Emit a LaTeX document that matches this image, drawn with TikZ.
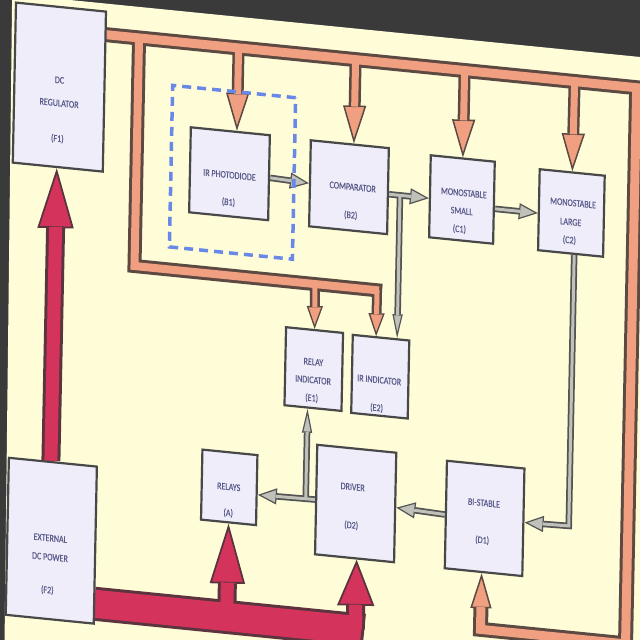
\documentclass[tikz,border=0pt]{standalone}
\usepackage{fontspec}
\setmainfont{Carlito}
\newfontfamily\lblfont{Carlito}[FakeStretch=0.8,FakeBold=0.5]
\usetikzlibrary{arrows.meta,calc}
\definecolor{paper}{RGB}{254,253,216}
\definecolor{bgdark}{RGB}{58,58,58}
\definecolor{boxfill}{RGB}{238,237,249}
\definecolor{boxline}{RGB}{72,72,72}
\definecolor{txt}{RGB}{92,92,140}
\definecolor{orng}{RGB}{240,160,128}
\definecolor{orngdk}{RGB}{92,74,66}
\definecolor{redp}{RGB}{212,52,92}
\definecolor{reddk}{RGB}{92,52,62}
\definecolor{sig}{RGB}{192,194,186}
\definecolor{sigdk}{RGB}{84,84,84}
\definecolor{dashblue}{RGB}{105,135,230}
\pgfdeclarelayer{back}
\pgfdeclarelayer{wires}
\pgfsetlayers{back,wires,main}
\begin{document}
\begin{tikzpicture}[x=1pt,y=-1pt,
  box/.style={draw=boxline, fill=boxfill, line width=2.2pt, inner sep=0pt, transform shape},
  lbl/.style={font=\lblfont\fontsize{10}{11}\selectfont, text=txt, inner sep=0pt, text height=6.4pt, text depth=0pt, transform shape},
  odk/.style={draw=orngdk, line join=miter},
  ofl/.style={draw=orng, line join=miter},
  otipL/.style={-{Triangle[width=23pt,length=38pt,fill=orng,line width=1.5pt]}},
  otipS/.style={-{Triangle[width=21pt,length=35pt,fill=orng,line width=1.5pt]}},
  otipM/.style={-{Triangle[width=16pt,length=23pt,fill=orng,line width=1.3pt]}},
  rdk/.style={draw=reddk, line join=miter},
  rfl/.style={draw=redp, line join=miter},
  rtipA/.style={-{Triangle[width=35pt,length=60pt,fill=redp,line width=1.8pt]}},
  rtipD/.style={-{Triangle[width=37pt,length=46pt,fill=redp,line width=1.8pt]}},
  rtipF/.style={-{Triangle[width=36pt,length=60pt,fill=redp,line width=1.8pt]}},
  sdk/.style={draw=sigdk, line width=6.5pt, line join=miter},
  sfl/.style={draw=sig, line width=3pt, line join=miter},
  stip/.style={-{Triangle[width=16pt,length=19pt,fill=sig,line width=1.2pt]}},
  stipV/.style={-{Triangle[width=10pt,length=24pt,fill=sig,line width=1.2pt]}}
]
\begin{pgfonlayer}{back}
\fill[bgdark] (0,0) rectangle (640,640);
\end{pgfonlayer}
\useasboundingbox (0,0) rectangle (640,640);
\begin{scope}[cm={1,-0.1,0.02,1,(0,0)}]
\begin{pgfonlayer}{back}
\fill[paper] (12,-7) -- (720,-7) -- (720,720) -- (18,720) -- cycle;
\end{pgfonlayer}

% boxes
\node[box, minimum width=90pt, minimum height=160pt] (f1) at (61,81) {};
\node[box, minimum width=88pt, minimum height=157pt] (f2) at (62,534.5) {};
\node[box, minimum width=79pt, minimum height=85pt] (b1) at (232.5,150.5) {};
\node[box, minimum width=78pt, minimum height=86pt] (b2) at (352,152) {};
\node[box, minimum width=64pt, minimum height=82pt] (c1) at (465,153) {};
\node[box, minimum width=65pt, minimum height=81pt] (c2) at (574.5,155.5) {};
\node[box, minimum width=57pt, minimum height=78pt] (e1) at (320.5,337) {};
\node[box, minimum width=56.5pt, minimum height=78pt] (e2) at (387,338) {};
\node[box, minimum width=55pt, minimum height=70pt] (a) at (238.5,463.5) {};
\node[box, minimum width=79pt, minimum height=109.5pt] (d2) at (365,467) {};
\node[box, minimum width=77.5pt, minimum height=107.5pt] (d1) at (494,469) {};

% labels
\node[lbl] (f1t1) at (61,74) {DC};
\node[lbl] (f1t2) at (61,97) {REGULATOR};
\node[lbl] (f1t3) at (60,132.5) {(F1)};
\node[lbl] (f2t1) at (61,532) {EXTERNAL};
\node[lbl] (f2t2) at (61,551) {DC POWER};
\node[lbl] (f2t3) at (59,584) {(F2)};
\node[lbl] (b1t1) at (232.5,151.7) {IR PHOTODIODE};
\node[lbl] (b1t2) at (232,178.8) {(B1)};
\node[lbl] (b2t1) at (355.7,151.4) {COMPARATOR};
\node[lbl] (b2t2) at (354.3,179.6) {(B2)};
\node[lbl] (c1t1) at (466.8,146.3) {MONOSTABLE};
\node[lbl] (c1t2) at (465,164.5) {SMALL};
\node[lbl] (c1t3) at (463,182.7) {(C1)};
\node[lbl] (c2t1) at (576,145.4) {MONOSTABLE};
\node[lbl] (c2t2) at (574,164.6) {LARGE};
\node[lbl] (c2t3) at (573,182.7) {(C2)};
\node[lbl] (e1t1) at (320,330) {RELAY};
\node[lbl] (e1t2) at (320,348) {INDICATOR};
\node[lbl] (e1t3) at (319,366) {(E1)};
\node[lbl] (e2t1) at (386,341.4) {IR INDICATOR};
\node[lbl] (e2t2) at (384,369.4) {(E2)};
\node[lbl] (at1) at (238,463) {RELAYS};
\node[lbl] (at2) at (238,489) {(A)};
\node[lbl] (d2t1) at (361.7,450.8) {DRIVER};
\node[lbl] (d2t2) at (361,489) {(D2)};
\node[lbl] (d1t1) at (493,453.7) {BI-STABLE};
\node[lbl] (d1t2) at (492,490.8) {(D1)};

% group frame
\node[draw=dashblue, line width=3.5pt, dash pattern=on 9pt off 6pt, minimum width=123pt, minimum height=161.5pt, inner sep=0pt, transform shape] (grp) at (235.5,148.75) {};

% junction coordinates
\coordinate (o0) at (106,24);
\coordinate (o1) at (139.5,24);
\coordinate (oR) at (637,24);
\coordinate (oRB) at (637,580);
\coordinate (oB) at (492,580);
\coordinate (oL1) at (139.5,252);
\coordinate (oL2) at (387,252);
\coordinate (oE2) at (382,252);
\coordinate (oE1) at (320,252);
\coordinate (ob1) at (239,24);
\coordinate (ob2) at (356,24);
\coordinate (oc1) at (465,24);
\coordinate (oc2) at (575,24);
\coordinate (r0) at (106,593);
\coordinate (r1) at (376,593);
\coordinate (ra) at (238.5,593);
\coordinate (rd) at (367,593);
\coordinate (j1) at (403,155);
\coordinate (j2) at (315,467.5);
\coordinate (k1) at (578,468);

\begin{pgfonlayer}{wires}
% ---- orange supply bus: outlines
\draw[odk, line width=15pt, otipS] (o0) -- (oR) -- (oRB) -- (oB) -- ($(d1.south)+(-2,0)$);
\draw[odk, line width=14pt] (o1) -- (oL1) -- (oL2);
\draw[odk, line width=12pt, otipL] (ob1) -- ($(b1.north)+(6.5,0)$);
\draw[odk, line width=12pt, otipL] (ob2) -- ($(b2.north)+(4,0)$);
\draw[odk, line width=12pt, otipL] (oc1) -- (c1.north);
\draw[odk, line width=12pt, otipL] (oc2) -- (c2.north);
\draw[odk, line width=10pt, otipM] (oE1) -- (e1.north);
\draw[odk, line width=10pt, otipM] (oE2) -- ($(e2.north)+(-5,0)$);
% ---- orange fills
\draw[ofl, line width=9pt, shorten >=34pt] (o0) -- (oR) -- (oRB) -- (oB) -- ($(d1.south)+(-2,0)$);
\draw[ofl, line width=8pt] (o1) -- (oL1) -- ($(oL2)+(-3,0)$);
\draw[ofl, line width=7pt, shorten >=37pt] (ob1) -- ($(b1.north)+(6.5,0)$);
\draw[ofl, line width=7pt, shorten >=37pt] (ob2) -- ($(b2.north)+(4,0)$);
\draw[ofl, line width=7pt, shorten >=37pt] (oc1) -- (c1.north);
\draw[ofl, line width=7pt, shorten >=37pt] (oc2) -- (c2.north);
\draw[ofl, line width=5pt, shorten >=22pt] (oE1) -- (e1.north);
\draw[ofl, line width=5pt, shorten >=22pt] (oE2) -- ($(e2.north)+(-5,0)$);

% ---- red power: outlines
\draw[rdk, line width=34pt] (r0) -- (r1);
\draw[rdk, line width=19pt, rtipA] (ra) -- (a.south);
\draw[rdk, line width=19pt, rtipD] (rd) -- ($(d2.south)+(2,0)$);
\draw[rdk, line width=19pt, rtipF] ($(f2.north)+(-2,0)$) -- ($(f1.south)+(-1,0)$);
% ---- red fills
\draw[rfl, line width=28pt] (r0) -- ($(r1)+(-3,0)$);
\draw[rfl, line width=13pt, shorten >=59pt] (ra) -- (a.south);
\draw[rfl, line width=13pt, shorten >=45pt] (rd) -- ($(d2.south)+(2,0)$);
\draw[rfl, line width=13pt, shorten >=59pt] ($(f2.north)+(-2,0)$) -- ($(f1.south)+(-1,0)$);

% ---- signal arrows: outlines
\draw[sdk, stip] (b1.east) -- (b2.west);
\draw[sdk, stip] ($(b2.east)+(0,3)$) -- ($(c1.west)+(0,2)$);
\draw[sdk, stipV] (j1) -- ($(e2.north)+(16,0)$);
\draw[sdk, stip] ($(c1.east)+(0,6)$) -- ($(c2.west)+(0,3.5)$);
\draw[sdk, stip] ($(c2.south)+(3.5,0)$) -- (k1) -- (d1.east);
\draw[sdk, stip] (d1.west) -- (d2.east);
\draw[sdk, stip] (d2.west) -- ($(a.east)+(0,4.5)$);
\draw[sdk, stipV] (j2) -- ($(e1.south)+(-5.5,0)$);
% ---- signal arrows: fills
\draw[sfl, shorten >=18pt] (b1.east) -- (b2.west);
\draw[sfl, shorten >=18pt] ($(b2.east)+(0,3)$) -- ($(c1.west)+(0,2)$);
\draw[sfl, shorten >=23pt] (j1) -- ($(e2.north)+(16,0)$);
\draw[sfl, shorten >=18pt] ($(c1.east)+(0,6)$) -- ($(c2.west)+(0,3.5)$);
\draw[sfl, shorten >=18pt] ($(c2.south)+(3.5,0)$) -- (k1) -- (d1.east);
\draw[sfl, shorten >=18pt] (d1.west) -- (d2.east);
\draw[sfl, shorten >=18pt] (d2.west) -- ($(a.east)+(0,4.5)$);
\draw[sfl, shorten >=23pt] (j2) -- ($(e1.south)+(-5.5,0)$);
\end{pgfonlayer}
\end{scope}
\end{tikzpicture}
\end{document}
